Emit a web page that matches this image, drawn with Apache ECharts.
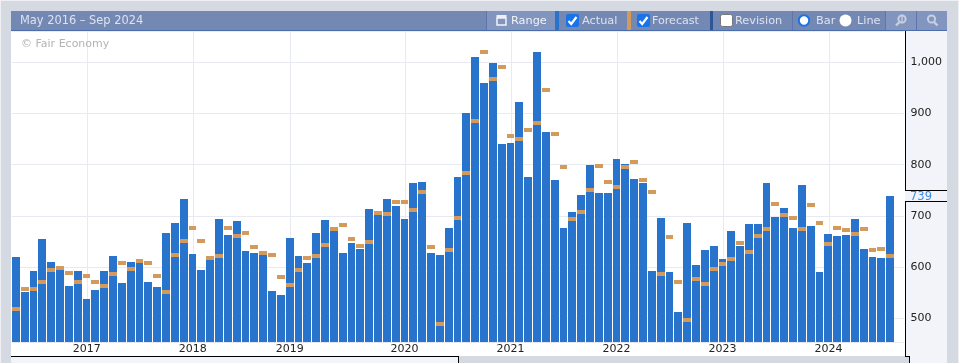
<!DOCTYPE html>
<html><head><meta charset="utf-8">
<style>html,body{margin:0;padding:0;background:#d5d9e2}#c{width:959px;height:363px}</style>
<script src="https://cdn.jsdelivr.net/npm/echarts@6/dist/echarts.min.js"></script>
</head><body><div id="c"></div>
<script>
const rangeLabel = 'May 2016 – Sep 2024';
const credit = '© Fair Economy';
const months = [];
for (let y = 2016, m = 5; months.length < 100; m++) { if (m > 12) { m = 1; y++; } months.push(y + '-' + String(m).padStart(2, '0')); }
const categories = months.concat(['']);
const yearTickIndex = [8, 20, 31, 44, 56, 68, 80, 92];
const yearTickLabels = ['2017', '2018', '2019', '2020', '2021', '2022', '2023', '2024'];
const actual = [620,551,592,655,610,594,563,592,538,555,592,622,569,610,608,571,561,667,686,733,626,594,614,694,663,690,
631,628,624,553,546,657,622,608,667,692,671,628,647,635,714,702,733,719,694,764,766,628,624,676,
776,901,1010,960,999,840,842,923,776,1020,864,770,676,708,741,799,745,745,811,801,772,764,592,696,591,512,
686,604,633,641,616,671,641,684,684,764,698,715,676,760,680,590,665,661,663,694,635,620,618,739];
const forecast = [518,557,557,571,594,598,589,571,583,571,563,587,608,596,612,608,583,551,624,651,676,651,618,622,676,661,
667,639,628,624,581,565,594,618,622,643,674,682,655,641,649,706,704,727,727,712,747,639,489,633,
696,784,885,1020,967,991,856,850,868,882,946,860,796,694,708,751,798,766,757,796,805,770,747,587,659,571,
497,577,567,596,606,616,647,630,661,674,723,702,696,674,721,686,645,676,673,665,674,633,635,622];
const yAxisMin = 453.7, yAxisMax = 1061.1;
const F = '"DejaVu Sans"';
const PANEL = '#f3f4f9', HEAD = '#7488b4', LIGHT = '#8195bf', SEP = '#5d77ad', TXT = '#dde2ee', BLUE = '#2874cd', ORANGE = '#d49a5c', GRIDC = '#e8eaf2';

function rect(x, y, w, h, fill, z) { return { type: 'rect', silent: true, z: z, shape: { x, y, width: w, height: h }, style: { fill } }; }
function text(x, y, t, c, size, z) { return { type: 'text', silent: true, z: z, x, y, style: { text: t, fill: c, font: (size || 11.3) + 'px ' + F, verticalAlign: 'middle' } }; }
function checkbox(x, y) {
  return [
    { type: 'rect', silent: true, z: 21, shape: { x, y, width: 13, height: 13, r: 2 }, style: { fill: '#1a73e8' } },
    { type: 'polyline', silent: true, z: 22, shape: { points: [[x + 2.5, y + 7], [x + 5.2, y + 10], [x + 10.5, y + 3]] }, style: { stroke: '#fff', lineWidth: 2.2, fill: null } }
  ];
}
function magnifier(cx, cy, plus) {
  const d = plus ? 1 : -1;
  const out = [
    { type: 'circle', silent: true, z: 22, shape: { cx: cx + d, cy: cy - 1.5, r: 3.6 }, style: { stroke: '#c6cfe2', fill: null, lineWidth: 2 } },
    { type: 'line', silent: true, z: 22, shape: { x1: cx - d * 1.5, y1: cy + 1.5, x2: cx - d * 5, y2: cy + 5 }, style: { stroke: '#c6cfe2', lineWidth: 2.4 } }
  ];
  if (plus) out.push({ type: 'line', silent: true, z: 22, shape: { x1: cx + 1, y1: cy - 6, x2: cx + 1, y2: cy + 3 }, style: { stroke: '#c6cfe2', lineWidth: 1.4 } });
  return out;
}
function chrome(yLast) {
  const notchTop = Math.round(yLast - 6), notchBottom = Math.round(yLast + 5.5);
  return [
    rect(0, 0, 959, 1, '#eef0f3', -20), rect(0, 0, 1, 363, '#eef0f3', -20), rect(958, 0, 1, 363, '#eef0f3', -20),
    rect(11, 31, 894, 325, '#ffffff', -10),
    rect(905, 31, 42, 332, PANEL, -10),
    rect(11, 356, 447, 7, PANEL, -10),
    rect(909, 356, 38, 7, PANEL, -10),
    rect(458, 356, 451, 7, '#d5d9e2', -9),
    rect(905, 31, 1, notchTop - 31, '#000', 15),
    rect(905, notchTop, 42, 1, '#000', 15),
    rect(905, notchBottom, 1, 357 - notchBottom, '#000', 15),
    rect(905, notchBottom, 42, 1, '#000', 15),
    rect(905, notchTop + 1, 42, notchBottom - notchTop - 1, PANEL, 14),
    rect(11, 356, 448, 1, '#000', 15),
    rect(458, 356, 1, 7, '#000', 15),
    rect(905, 356, 5, 1, '#000', 15),
    rect(909, 356, 1, 7, '#000', 15),
    text(910, yLast + 1, String(actual[actual.length - 1]), '#3f8be0', 11.5, 16),

    rect(11, 11, 936, 19, HEAD, 18),
    rect(11, 30, 936, 1, '#4a6cab', 18),
    text(20, 21, rangeLabel, TXT, 11.4, 20),
    text(21, 44, credit, '#b4b4b4', 11, 16),

    rect(487, 11, 68, 19, LIGHT, 19),
    rect(486, 11, 1, 19, SEP, 20),
    rect(555, 11, 4, 19, BLUE, 20),
    rect(627, 11, 4, 19, ORANGE, 20),
    rect(710, 11, 3, 19, '#2f5597', 20),
    rect(792, 11, 1, 19, SEP, 20),
    rect(885, 11, 1, 19, SEP, 20),
    rect(886, 11, 61, 19, LIGHT, 19),
    rect(916, 11, 1, 19, SEP, 20),

    { type: 'rect', silent: true, z: 22, shape: { x: 497, y: 18, width: 9, height: 7 }, style: { stroke: '#eef1f7', fill: null, lineWidth: 1.5 } },
    rect(496.5, 15, 10, 3, '#eef1f7', 22),
    text(511, 21, 'Range', '#eef1f7', 11.3, 21),
    ...checkbox(566, 14),
    text(582, 21, 'Actual', TXT, 11.3, 21),
    ...checkbox(637, 14),
    text(652, 21, 'Forecast', TXT, 11.1, 21),
    { type: 'rect', silent: true, z: 21, shape: { x: 720.5, y: 14.5, width: 12, height: 12, r: 2 }, style: { fill: '#fff', stroke: '#777', lineWidth: 1 } },
    text(735, 21, 'Revision', TXT, 11.3, 21),
    { type: 'circle', silent: true, z: 21, shape: { cx: 804, cy: 20.5, r: 5.2 }, style: { fill: '#fff', stroke: '#1a73e8', lineWidth: 2 } },
    text(816, 21, 'Bar', TXT, 11.3, 21),
    { type: 'circle', silent: true, z: 21, shape: { cx: 845.5, cy: 20.5, r: 6 }, style: { fill: '#fff' } },
    text(857, 21, 'Line', TXT, 11.3, 21),
    ...magnifier(901, 20.5, true),
    ...magnifier(932.5, 20.5, false)
  ];
}

// each month's slot snapped to whole pixels, leaving a 1px gap to the next month
function slot(api, i) {
  const left = Math.round(api.coord([i, yAxisMin])[0] - 4.05);
  const right = Math.round(api.coord([i + 1, yAxisMin])[0] - 4.05) - 1;
  return { left, width: right - left };
}
function renderActual(params, api) {
  const i = api.value(0), s = slot(api, i);
  const top = Math.round(api.coord([i, api.value(1)])[1]);
  const base = Math.round(api.coord([i, yAxisMin])[1]);
  return { type: 'rect', shape: { x: s.left, y: top, width: s.width, height: base - top }, style: { fill: BLUE } };
}
function renderForecast(params, api) {
  const i = api.value(0), s = slot(api, i);
  const y = Math.round(api.coord([i, api.value(1)])[1] - 2);
  return { type: 'rect', shape: { x: s.left, y, width: s.width, height: 4 }, style: { fill: ORANGE } };
}
function renderYearLine(params, api) {
  const i = api.value(0);
  const x = Math.round(api.coord([i, yAxisMin])[0]);
  const y1 = api.coord([i, yAxisMax])[1], y0 = api.coord([i, yAxisMin])[1];
  return { type: 'rect', shape: { x, y: y1, width: 1, height: y0 - y1 }, style: { fill: GRIDC } };
}

const chart = echarts.init(document.getElementById('c'), null, { renderer: 'canvas' });
const option = {
  animation: false,
  backgroundColor: '#d5d9e2',
  textStyle: { fontFamily: F },
  grid: { left: 11.6, width: 892, top: 31, height: 311, containLabel: false },
  xAxis: {
    type: 'category', data: categories, boundaryGap: true,
    axisLine: { show: false }, axisTick: { show: false }, splitLine: { show: false },
    axisLabel: {
      margin: 2, color: '#222', fontFamily: F, fontSize: 11,
      interval: i => yearTickIndex.includes(i),
      formatter: (v, i) => { const k = yearTickIndex.indexOf(i); return k < 0 ? '' : yearTickLabels[k]; }
    }
  },
  yAxis: {
    type: 'value', position: 'right', min: yAxisMin, max: yAxisMax,
    minInterval: 100, maxInterval: 100, splitNumber: 6,
    axisLine: { show: false }, axisTick: { show: false },
    splitLine: { show: true, lineStyle: { color: GRIDC, width: 1 } },
    axisLabel: {
      margin: 7, color: '#222', fontFamily: F, fontSize: 11, padding: [4, 0, 0, 0],
      showMinLabel: false, showMaxLabel: false,
      formatter: v => (v % 100 === 0 ? v.toLocaleString('en-US') : '')
    }
  },
  series: [
    { name: 'Years', type: 'custom', silent: true, z: 1, clip: false, data: yearTickIndex.map(i => [i]), encode: { x: 0 }, renderItem: renderYearLine },
    { name: 'Actual', type: 'custom', silent: true, z: 3, clip: false, data: actual.map((v, i) => [i, v]), encode: { x: 0, y: 1 }, renderItem: renderActual },
    { name: 'Forecast', type: 'custom', silent: true, z: 4, clip: false, data: forecast.map((v, i) => [i, v]), encode: { x: 0, y: 1 }, renderItem: renderForecast }
  ]
};
chart.setOption(option);
const yLast = chart.convertToPixel({ yAxisIndex: 0 }, actual[actual.length - 1]);
chart.setOption({ graphic: { elements: chrome(yLast) } });
</script></body></html>
